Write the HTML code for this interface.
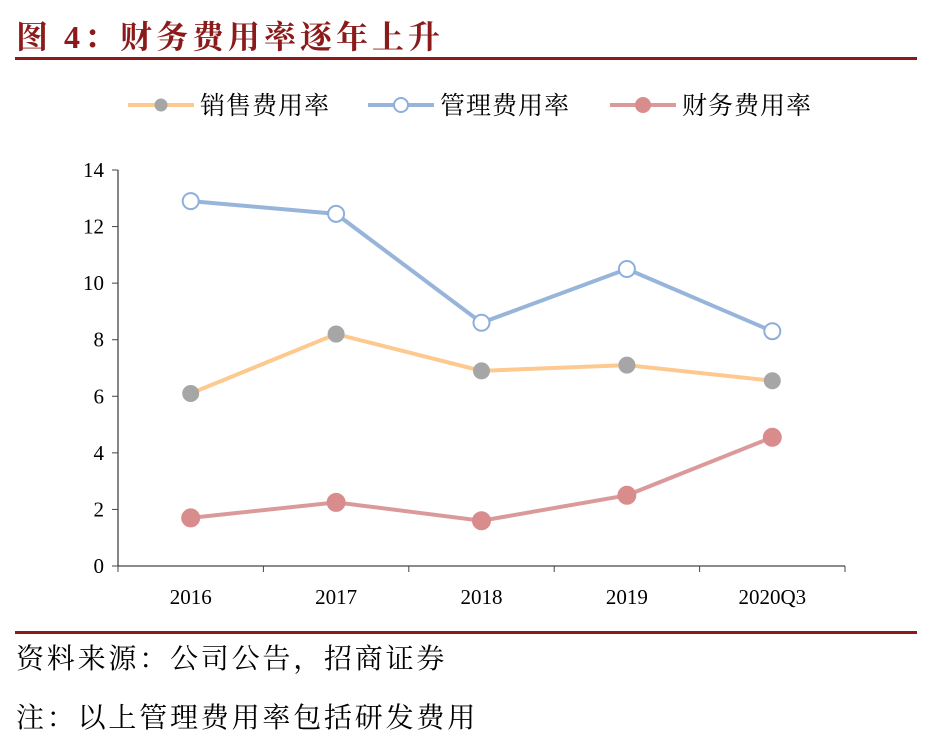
<!DOCTYPE html>
<html><head><meta charset="utf-8"><style>
body{margin:0;width:931px;height:744px;background:#fff;overflow:hidden;font-family:"Liberation Serif","Noto Serif CJK SC",serif}
.t{position:absolute;white-space:nowrap}
</style></head><body>
<div class="t" style="left:16px;top:12px;font-size:32px;letter-spacing:4px;font-weight:bold;color:#8b1a1a;font-family:'Liberation Serif','Noto Serif CJK SC',serif">图 4：财务费用率逐年上升</div>
<div style="position:absolute;left:15px;top:57px;width:902px;height:3px;background:#8b1a1a"></div>
<svg id="c" width="931" height="744" style="position:absolute;left:0;top:0"></svg>
<div style="position:absolute;left:15px;top:631px;width:902px;height:3px;background:#8b1a1a"></div>
<div class="t" style="left:16px;top:637px;font-size:28px;letter-spacing:2.8px;font-family:'Noto Serif CJK SC',serif">资料来源：公司公告，招商证券</div>
<div class="t" style="left:16px;top:696px;font-size:28px;letter-spacing:2.8px;font-family:'Noto Serif CJK SC',serif">注：以上管理费用率包括研发费用</div>
<script>
const categories=["2016","2017","2018","2019","2020Q3"];
const salesRate=[6.1,8.2,6.9,7.1,6.55];
const adminRate=[12.9,12.45,8.6,10.5,8.3];
const financeRate=[1.7,2.25,1.6,2.5,4.55];
const yTicks=[0,2,4,6,8,10,12,14];
const svg=document.getElementById('c');const NS='http://www.w3.org/2000/svg';
function mk(t,a){const e=document.createElementNS(NS,t);for(const k in a)e.setAttribute(k,a[k]);svg.appendChild(e);return e;}
const x0=118,x1=845,y0=566,y1=170;
const xs=i=>x0+(x1-x0)*(i+0.5)/categories.length;
const ys=v=>y0-(y0-y1)*v/14;
let e=mk('line',{x1:x0,y1:y1,x2:x0,y2:y0,stroke:'#444','stroke-width':1.3});

e=mk('line',{x1:x0,y1:y0,x2:x1,y2:y0,stroke:'#444','stroke-width':1.3});

yTicks.forEach(v=>{const y=ys(v);
 e=mk('line',{x1:x0-6,y1:y,x2:x0,y2:y,stroke:'#444'});
 e=mk('text',{x:x0-14,y:y+7,'text-anchor':'end','font-size':21,'font-family':'Liberation Serif'});e.textContent=v;
 });
for(let i=0;i<=categories.length;i++){const x=x0+(x1-x0)*i/categories.length;
 e=mk('line',{x1:x,y1:y0,x2:x,y2:y0+6,stroke:'#444'});}
categories.forEach((c,i)=>{e=mk('text',{x:xs(i),y:604,'text-anchor':'middle','font-size':21,'font-family':'Liberation Serif'});e.textContent=c;
 });
const series=[
 {name:'销售费用率',d:salesRate,line:'#fdc98f',fill:'#a6a6a6',stroke:'#a6a6a6',r:7.5},
 {name:'管理费用率',d:adminRate,line:'#97b5da',fill:'#fff',stroke:'#8eaedb',r:8},
 {name:'财务费用率',d:financeRate,line:'#db9a9a',fill:'#d98c8c',stroke:'#d98c8c',r:8.5}];
series.forEach((s,k)=>{
 e=mk('polyline',{points:s.d.map((v,i)=>xs(i)+','+ys(v)).join(' '),fill:'none',stroke:s.line,'stroke-width':4});
 
 s.d.forEach((v,i)=>{e=mk('circle',{cx:xs(i),cy:ys(v),r:s.r,fill:s.fill,stroke:s.stroke,'stroke-width':2});
  });
 const lx=[128,368,610][k],ly=105;
 e=mk('line',{x1:lx,y1:ly,x2:lx+66,y2:ly,stroke:s.line,'stroke-width':4});
 e=mk('circle',{cx:lx+33,cy:ly,r:k==0?5.5:7,fill:s.fill,stroke:s.stroke,'stroke-width':2});
 e=mk('text',{x:lx+72,y:ly+9,'font-size':25,'letter-spacing':1,'font-family':'Noto Serif CJK SC, serif'});e.textContent=s.name;
 
});
</script></body></html>
